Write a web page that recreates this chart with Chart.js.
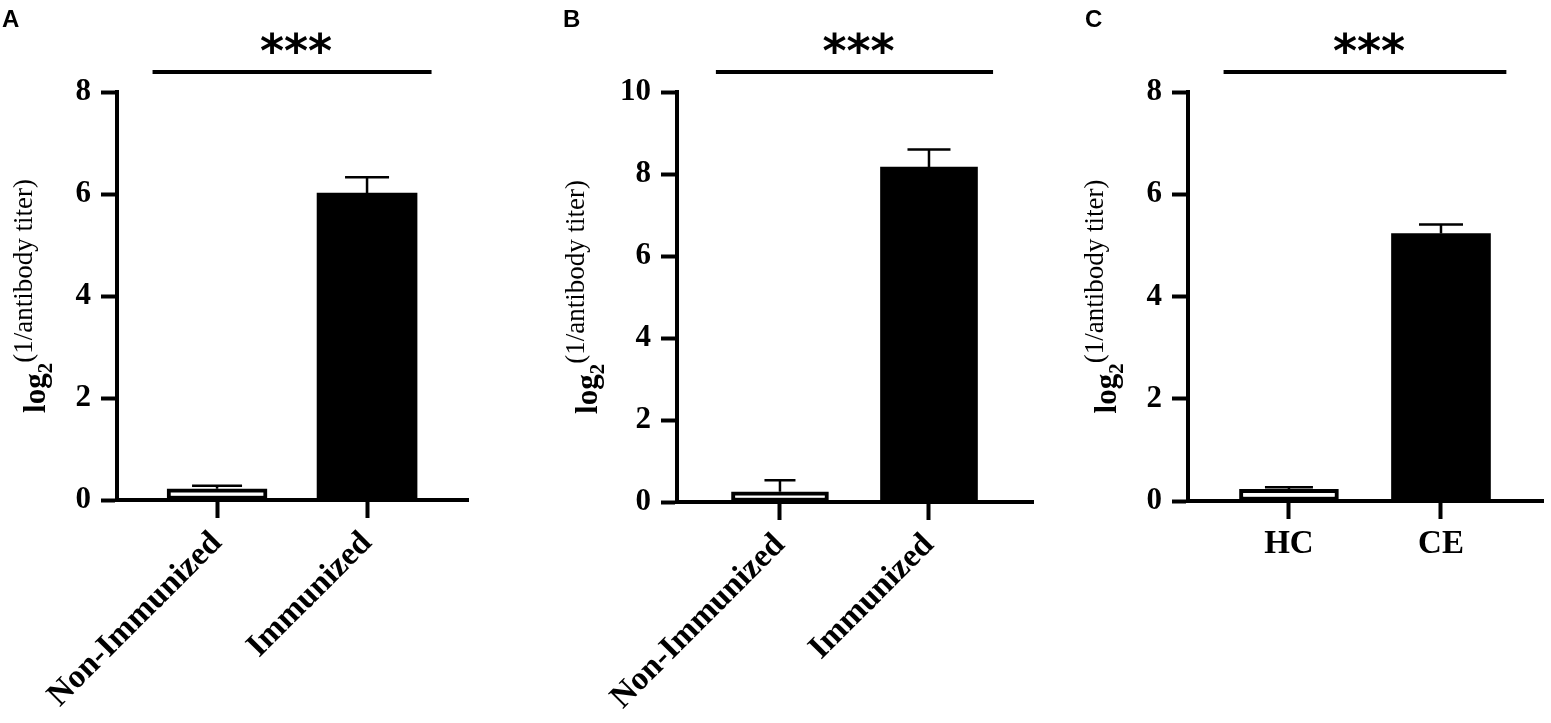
<!DOCTYPE html>
<html>
<head>
<meta charset="utf-8">
<script src="https://cdn.jsdelivr.net/npm/chart.js@4/dist/chart.umd.min.js"></script>
<style>
  body { margin: 0; background: #fff; width: 1551px; height: 723px; overflow: hidden; position: relative; }
  canvas { position: absolute; top: 0; }
</style>
</head>
<body>
<canvas id="chartA" width="540" height="723" style="left:0px"></canvas>
<canvas id="chartB" width="540" height="723" style="left:540px"></canvas>
<canvas id="chartC" width="471" height="723" style="left:1080px"></canvas>
<script>
// datos (media y SEM)
const groupsA = ['Non-Immunized', 'Immunized'];
const meansA = [0.22, 6.02];
const semA = [0.06, 0.31];
const yTicksA = [0, 2, 4, 6, 8];

const groupsB = ['Non-Immunized', 'Immunized'];
const meansB = [0.25, 8.17];
const semB = [0.28, 0.43];
const yTicksB = [0, 2, 4, 6, 8, 10];

const groupsC = ['HC', 'CE'];
const meansC = [0.23, 5.23];
const semC = [0.04, 0.18];
const yTicksC = [0, 2, 4, 6, 8];

const serif = "'Liberation Serif', 'Times New Roman', serif";

// barras de error, línea de significancia, título del eje y letra del panel
const extras = {
  id: 'extras',
  afterDatasetsDraw(chart, args, opts) {
    const { ctx, scales: { x, y } } = chart;
    const pts = chart.data.datasets[0].data;
    ctx.save();
    ctx.strokeStyle = '#000';
    ctx.lineWidth = 2.5;
    opts.sem.forEach((e, i) => {
      const px = x.getPixelForValue(pts[i].x);
      const top = y.getPixelForValue(pts[i].y);
      const tip = y.getPixelForValue(pts[i].y + e);
      const half = opts.caps[i] / 2;
      ctx.beginPath();
      ctx.moveTo(px, top);
      ctx.lineTo(px, tip);
      ctx.moveTo(px - half, tip);
      ctx.lineTo(px + half, tip);
      ctx.stroke();
    });
    ctx.restore();
  },
  afterDraw(chart, args, opts) {
    const { ctx, chartArea, scales: { x } } = chart;
    ctx.save();
    // línea de significancia y asteriscos
    const x1 = x.getPixelForValue(-0.43);
    const x2 = x.getPixelForValue(1.43);
    const ly = chartArea.top - 20;
    ctx.strokeStyle = '#000';
    ctx.lineWidth = 4;
    ctx.beginPath();
    ctx.moveTo(x1, ly);
    ctx.lineTo(x2, ly);
    ctx.stroke();
    ctx.fillStyle = '#000';
    ctx.font = "bold 46px 'DejaVu Sans'";
    ctx.textAlign = 'center';
    ctx.textBaseline = 'alphabetic';
    const m = ctx.measureText('***');
    ctx.fillText('***', (x1 + x2) / 2 + 4, chartArea.top - 49 + (m.actualBoundingBoxAscent - m.actualBoundingBoxDescent) / 2);

    // letra del panel
    ctx.font = "bold 24px 'Liberation Sans', Arial, sans-serif";
    ctx.textAlign = 'left';
    ctx.textBaseline = 'top';
    ctx.fillText(opts.letter, opts.letterX, 8);

    // título del eje y: log2 ^(1/antibody titer)
    const parts = [
      { t: 'log', f: 'bold 31px ' + serif, dy: 0 },
      { t: '2', f: 'bold 21px ' + serif, dy: 7 },
      { t: '(1/antibody titer)', f: '27px ' + serif, dy: -13 }
    ];
    let total = 0;
    parts.forEach(p => { ctx.font = p.f; p.w = ctx.measureText(p.t).width; total += p.w; });
    ctx.translate(opts.titleX, (chartArea.top + chartArea.bottom) / 2);
    ctx.rotate(-Math.PI / 2);
    ctx.textBaseline = 'alphabetic';
    let cx = -total / 2;
    parts.forEach(p => {
      ctx.font = p.f;
      ctx.fillText(p.t, cx, p.dy);
      cx += p.w;
    });
    ctx.restore();
  }
};

function makePanel(id, groups, means, sem, yTicks, look) {
  const ctx = document.getElementById(id).getContext('2d');
  const canvasW = ctx.canvas.width;
  const canvasH = ctx.canvas.height;
  return new Chart(ctx, {
    type: 'bar',
    data: {
      datasets: [{
        data: means.map((v, i) => ({ x: i, y: v })),
        backgroundColor: ['#ffffff', '#000000'],
        borderColor: '#000000',
        borderWidth: [4, 0],
        borderSkipped: false,
        barThickness: look.bar
      }]
    },
    options: {
      responsive: false,
      animation: false,
      layout: {
        padding: { left: 0, top: look.top, right: canvasW - look.right, bottom: 0 }
      },
      plugins: {
        legend: { display: false },
        tooltip: { enabled: false },
        extras: { sem: sem, caps: look.caps, letter: look.letter, letterX: look.letterX, titleX: look.titleX }
      },
      scales: {
        x: {
          type: 'linear',
          offset: false,
          min: look.xMin,
          max: look.xMax,
          afterBuildTicks: scale => { scale.ticks = groups.map((g, i) => ({ value: i })); },
          afterFit: scale => { scale.height = canvasH - look.bottom; },
          border: { display: true, color: '#000', width: 4, z: 1 },
          grid: { offset: false, drawOnChartArea: false, drawTicks: true, tickLength: 18, tickWidth: 4, color: '#000', tickColor: '#000' },
          ticks: {
            autoSkip: false,
            minRotation: look.rotate,
            maxRotation: look.rotate,
            padding: 6,
            color: '#000',
            font: { family: serif, size: 33, weight: 'bold' },
            callback: v => groups[v]
          }
        },
        y: {
          min: yTicks[0],
          max: yTicks[yTicks.length - 1],
          afterBuildTicks: scale => { scale.ticks = yTicks.map(v => ({ value: v })); },
          afterFit: scale => { scale.width = look.left; },
          border: { display: true, color: '#000', width: 4, z: 1 },
          grid: { drawOnChartArea: false, drawTicks: true, tickLength: 16, tickWidth: 4, color: '#000', tickColor: '#000' },
          ticks: {
            padding: 10,
            color: '#000',
            font: { family: serif, size: 31, weight: 'bold' }
          }
        }
      }
    },
    plugins: [extras]
  });
}

makePanel('chartA', groupsA, meansA, semA, yTicksA,
  { left: 117, right: 468, top: 92, bottom: 500, xMin: -0.667, xMax: 1.673, bar: 100, caps: [50, 44], rotate: 45, letter: 'A', letterX: 2, titleX: 45 });
makePanel('chartB', groupsB, meansB, semB, yTicksB,
  { left: 137, right: 493, top: 92, bottom: 502, xMin: -0.691, xMax: 1.698, bar: 97, caps: [31, 43], rotate: 45, letter: 'B', letterX: 23, titleX: 57 });
makePanel('chartC', groupsC, meansC, semC, yTicksC,
  { left: 108, right: 463, top: 92, bottom: 501, xMin: -0.664, xMax: 1.671, bar: 99, caps: [48, 44], rotate: 0, letter: 'C', letterX: 5, titleX: 36 });
</script>
</body>
</html>
